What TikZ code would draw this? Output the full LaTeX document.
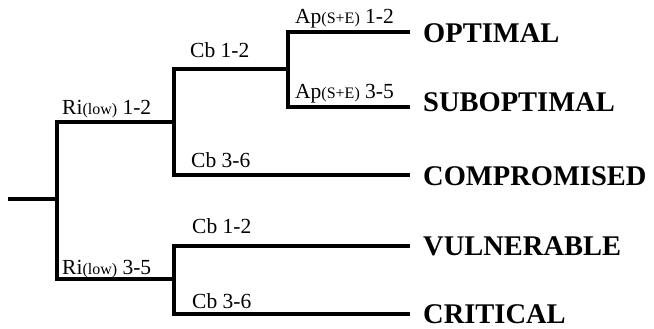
\documentclass[tikz,border=0pt]{standalone}
\usepackage{fontspec}
\setmainfont{Liberation Serif}
\begin{document}
\begin{tikzpicture}[x=1pt,y=-1pt,
  branch/.style={line width=4pt, line join=miter, line cap=rect},
  outcome/.style={anchor=base west, inner sep=0pt, font=\fontsize{28.5}{30}\selectfont\bfseries},
  blabel/.style={anchor=base west, inner sep=0pt, font=\fontsize{21.5}{23}\selectfont}]
\useasboundingbox (0,0) rectangle (654,329);
\newcommand{\sm}[1]{{\fontsize{16}{17}\selectfont(#1)}}
% junctions
\coordinate (r) at (10,199);
\coordinate (a) at (57,199);
\coordinate (b) at (174,122);
\coordinate (c) at (288,69);
\coordinate (d) at (174,279);
\coordinate (e1) at (408,32);
\coordinate (e2) at (408,107);
\coordinate (e3) at (408,175);
\coordinate (e4) at (408,246);
\coordinate (e5) at (408,314);
% tree
\draw[branch] (r) -- (a);
\draw[branch] (a) |- (b);
\draw[branch] (a) |- (d);
\draw[branch] (b) |- (c);
\draw[branch] (b) |- (e3);
\draw[branch] (c) |- (e1);
\draw[branch] (c) |- (e2);
\draw[branch] (d) |- (e4);
\draw[branch] (d) |- (e5);
% outcome labels
\node[outcome] (o1) at (423,43) {OPTIMAL};
\node[outcome] (o2) at (423,112) {SUBOPTIMAL};
\node[outcome] (o3) at (423,185) {COMPROMISED};
\node[outcome] (o4) at (423,255) {VULNERABLE};
\node[outcome] (o5) at (423,323) {CRITICAL};
% branch labels
\node[blabel] (l1) at (62,114) {Ri\sm{low} 1-2};
\node[blabel] (l2) at (62,274) {Ri\sm{low} 3-5};
\node[blabel] (l3) at (190,58) {Cb 1-2};
\node[blabel] (l4) at (191,167) {Cb 3-6};
\node[blabel] (l5) at (192,233) {Cb 1-2};
\node[blabel] (l6) at (192,308) {Cb 3-6};
\node[blabel] (l7) at (295,24) {Ap\sm{S+E} 1-2};
\node[blabel] (l8) at (295,99) {Ap\sm{S+E} 3-5};
\end{tikzpicture}
\end{document}
